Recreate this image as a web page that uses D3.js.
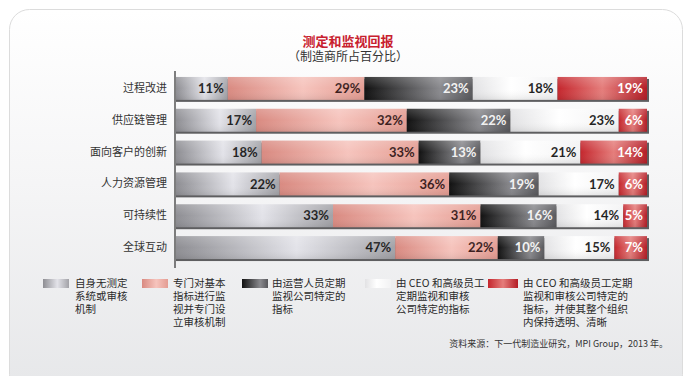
<!DOCTYPE html>
<html>
<head>
<meta charset="utf-8">
<script src="https://cdn.jsdelivr.net/npm/d3@7"></script>
<style>
  body { margin: 0; background: #fff; }
  svg { display: block; }
</style>
</head>
<body>
<script>
// survey categories (rows)
var categories = ["过程改进", "供应链管理", "面向客户的创新", "人力资源管理", "可持续性", "全球互动"];

// percent of manufacturers per approach
var noSystem       = [11, 17, 18, 22, 33, 47];
var basicMetrics   = [29, 32, 33, 36, 31, 22];
var operations     = [23, 22, 13, 19, 16, 10];
var ceoReview      = [18, 23, 21, 17, 14, 15];
var ceoTransparent = [19, 6, 14, 6, 5, 7];

var legendLabels = [
  ["自身无测定", "系统或审核", "机制"],
  ["专门对基本", "指标进行监", "视并专门设", "立审核机制"],
  ["由运营人员定期", "监视公司特定的", "指标"],
  ["由 CEO 和高级员工", "定期监视和审核", "公司特定的指标"],
  ["由 CEO 和高级员工定期", "监视和审核公司特定的", "指标，并使其整个组织", "内保持透明、清晰"]
];

var keys = ["s0", "s1", "s2", "s3", "s4"];
var seriesValues = [noSystem, basicMetrics, operations, ceoReview, ceoTransparent];

var table = categories.map(function(c, i) {
  var row = {cat: c};
  keys.forEach(function(k, j) { row[k] = seriesValues[j][i]; });
  return row;
});

var W = 694, H = 376;
var svg = d3.select("body").append("svg")
  .attr("width", W).attr("height", H)
  .style("font-family", "'Noto Sans CJK SC', 'Noto Sans', sans-serif");

var defs = svg.append("defs");

function hGrad(id, stops) {
  var g = defs.append("linearGradient").attr("id", id)
    .attr("x1", "0%").attr("y1", "0%").attr("x2", "100%").attr("y2", "0%");
  stops.forEach(function(s) {
    g.append("stop").attr("offset", s[0]).attr("stop-color", s[1]);
  });
}

hGrad("g0", [["0%", "#8e8e93"], ["55%", "#e3e3e9"], ["100%", "#a2a2a7"]]);
hGrad("g1", [["0%", "#d98a81"], ["55%", "#f6c4bd"], ["100%", "#e49c92"]]);
hGrad("g2", [["0%", "#111111"], ["70%", "#8a8a8e"], ["100%", "#58585c"]]);
hGrad("g3", [["0%", "#e2e2e4"], ["45%", "#ffffff"], ["100%", "#f2f2f3"]]);
hGrad("g4", [["0%", "#c4262d"], ["50%", "#e57d7b"], ["100%", "#b41c25"]]);

var cardGrad = defs.append("linearGradient").attr("id", "card")
  .attr("x1", "0").attr("y1", "0").attr("x2", "0").attr("y2", "1");
cardGrad.append("stop").attr("offset", "0%").attr("stop-color", "#ffffff");
cardGrad.append("stop").attr("offset", "45%").attr("stop-color", "#f5f5f6");
cardGrad.append("stop").attr("offset", "100%").attr("stop-color", "#e6e7e9");

var shine = defs.append("linearGradient").attr("id", "shine")
  .attr("x1", "0").attr("y1", "0").attr("x2", "0").attr("y2", "1");
shine.append("stop").attr("offset", "0%").attr("stop-color", "#fff").attr("stop-opacity", 0.18);
shine.append("stop").attr("offset", "50%").attr("stop-color", "#fff").attr("stop-opacity", 0);
shine.append("stop").attr("offset", "100%").attr("stop-color", "#000").attr("stop-opacity", 0.08);

// card background
svg.append("rect")
  .attr("x", 9.5).attr("y", 9.5)
  .attr("width", 673).attr("height", 385)
  .attr("rx", 20)
  .attr("fill", "url(#card)")
  .attr("stroke", "#dcdcdc");

// title
svg.append("text")
  .attr("x", 348).attr("y", 46)
  .attr("text-anchor", "middle")
  .attr("font-size", 13).attr("font-weight", "bold")
  .attr("fill", "#c8202e")
  .text("测定和监视回报");

svg.append("text")
  .attr("x", 348).attr("y", 61)
  .attr("text-anchor", "middle")
  .attr("font-size", 12)
  .attr("fill", "#333")
  .text("（制造商所占百分比）");

var x = d3.scaleLinear().domain([0, 1]).range([176, 647]);

var y = d3.scaleBand()
  .domain(categories)
  .range([72.5, 263.5])
  .paddingInner(0.28)
  .paddingOuter(0.14);

var stack = d3.stack().keys(keys).offset(d3.stackOffsetExpand);
var layers = stack(table);

// bar shadows
svg.append("g").selectAll("rect")
  .data(categories)
  .enter().append("rect")
  .attr("x", x(0))
  .attr("y", function(d) { return y(d) + 2; })
  .attr("width", x(1) - x(0) + 2)
  .attr("height", y.bandwidth())
  .attr("fill", "#5e5e60");

var layer = svg.append("g").selectAll("g")
  .data(layers)
  .enter().append("g");

layer.selectAll("rect")
  .data(function(d) { return d; })
  .enter().append("rect")
  .attr("x", function(d) { return x(d[0]); })
  .attr("y", function(d) { return y(d.data.cat); })
  .attr("width", function(d) { return x(d[1]) - x(d[0]); })
  .attr("height", y.bandwidth())
  .attr("fill", function() { return "url(#g" + d3.select(this.parentNode).datum().index + ")"; });

// subtle vertical shine over each bar
svg.append("g").selectAll("rect")
  .data(categories)
  .enter().append("rect")
  .attr("x", x(0))
  .attr("y", function(d) { return y(d); })
  .attr("width", x(1) - x(0))
  .attr("height", y.bandwidth())
  .attr("fill", "url(#shine)");

var labelColors = ["#1e1e1e", "#3a1c1c", "#f2f2f2", "#1e1e1e", "#ffffff"];

layer.selectAll("text")
  .data(function(d) { return d.map(function(p) { p.key = d.key; p.idx = d.index; return p; }); })
  .enter().append("text")
  .attr("x", function(d) { return x(d[1]) - 4; })
  .attr("y", function(d) { return y(d.data.cat) + y.bandwidth() / 2; })
  .attr("dy", "0.36em")
  .attr("text-anchor", "end")
  .attr("font-family", "Lato, 'Open Sans', sans-serif")
  .attr("font-weight", "bold")
  .attr("font-size", 13)
  .attr("fill", function(d) { return labelColors[d.idx]; })
  .text(function(d) { return d.data[d.key] + "%"; });

// category axis
var yAxis = d3.axisLeft(y).tickSize(0).tickPadding(8);
var axisG = svg.append("g")
  .attr("transform", "translate(175,0)")
  .call(yAxis);
axisG.select(".domain").remove();
axisG.selectAll("text")
  .attr("font-family", "'Noto Sans CJK SC', sans-serif")
  .attr("font-size", 11)
  .attr("fill", "#333");

svg.append("line")
  .attr("x1", 175).attr("x2", 175)
  .attr("y1", 71).attr("y2", 268)
  .attr("stroke", "#555").attr("stroke-width", 1.5);

// legend
var legendX = [43, 142, 242, 365, 488];
var legendTextX = [75, 173, 272, 396, 523];
var legend = svg.append("g").selectAll("g")
  .data(legendLabels)
  .enter().append("g");

legend.append("rect")
  .attr("x", function(d, i) { return legendX[i]; })
  .attr("y", 279)
  .attr("width", function(d, i) { return i === 4 ? 30 : 26; })
  .attr("height", 9)
  .attr("fill", function(d, i) { return "url(#g" + i + ")"; });

legend.append("text")
  .attr("font-size", 10.5)
  .attr("fill", "#2a2a2a")
  .each(function(lines, i) {
    var t = d3.select(this);
    lines.forEach(function(l, j) {
      t.append("tspan")
        .attr("x", legendTextX[i])
        .attr("y", 287 + j * 13)
        .text(l);
    });
  });

// source
svg.append("text")
  .attr("x", 668).attr("y", 347)
  .attr("text-anchor", "end")
  .attr("font-size", 9)
  .attr("fill", "#333")
  .text("资料来源：下一代制造业研究，MPI Group，2013 年。");
</script>
</body>
</html>
